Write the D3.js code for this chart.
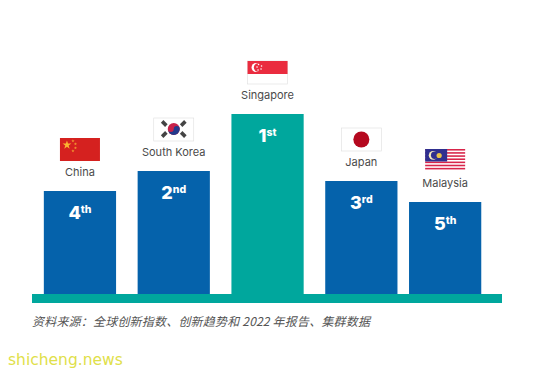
<!DOCTYPE html>
<html><head><meta charset="utf-8">
<script src="https://cdn.jsdelivr.net/npm/d3@7/dist/d3.min.js"></script>
<style>html,body{margin:0;padding:0;background:#fff}svg{display:block}</style>
</head><body><svg id="c" width="538" height="373"></svg>
<script>
const countries = ["China","South Korea","Singapore","Japan","Malaysia"];
const heights = [103,123,180,113,92];
const rankNumbers = ["4","2","1","3","5"];
const rankSuffixes = ["th","nd","st","rd","th"];
const caption = "资料来源:全球创新指数、创新趋势和 2022 年报告、集群数据";
const watermark = "shicheng.news";

const svg = d3.select("#c");
const baseY = 294, topY = 114;
const x = d3.scaleBand().domain(countries).range([33.8,501.3]).paddingInner(21.5/93.5).paddingOuter(0.107);
const xPos = d => x(d) + (d === "Malaysia" ? -10 : 0);
const y = d3.scaleLinear().domain([0,180]).range([baseY,topY]);
const rows = countries.map((c,i)=>({c,v:heights[i],n:rankNumbers[i],s:rankSuffixes[i]}));
const w = x.bandwidth();
const color = c => c==="Singapore" ? "#00a79d" : "#0562ab";

svg.append("rect").attr("x",32).attr("y",baseY).attr("width",470).attr("height",9).attr("fill","#00a79d");

const g = svg.selectAll("g.b").data(rows).join("g").attr("class","b");
g.append("rect").attr("x",d=>xPos(d.c)).attr("y",d=>y(d.v)).attr("width",w).attr("height",d=>baseY-y(d.v)).attr("fill",d=>color(d.c));

const rank = g.append("text").attr("x",d=>xPos(d.c)+w/2).attr("y",d=>y(d.v)+28)
  .attr("text-anchor","middle").attr("fill","#fff").attr("font-family","Inter, Roboto, sans-serif").attr("font-weight",800).attr("font-size",18);
rank.append("tspan").text(d=>d.n);
rank.append("tspan").text(d=>d.s).attr("font-size",10.5).attr("dy",-6);

g.append("text").attr("x",d=>xPos(d.c)+w/2).attr("y",d=>y(d.v)-15.5)
  .attr("text-anchor","middle").attr("fill","#4a4a4a").attr("font-family","Inter, sans-serif").attr("font-size",11).text(d=>d.c);

const flagW=40, flagH=23;
const border="#dedede";
const flag = g.append("g").attr("transform",d=>`translate(${xPos(d.c)+w/2-flagW/2},${y(d.v)-53})`);
flag.each(function(d){
  const f=d3.select(this);
  if(d.c==="China"){
    f.append("rect").attr("width",flagW).attr("height",flagH).attr("fill","#d5211f");
    f.append("path").attr("d",d3.symbol(d3.symbolStar,24)()).attr("transform","translate(7,7)").attr("fill","#fbb531");
    [[13,3],[15.5,6],[15.5,10],[13,13]].forEach(p=>f.append("path").attr("d",d3.symbol(d3.symbolStar,3)()).attr("transform",`translate(${p})`).attr("fill","#f5a531"));
  } else if(d.c==="South Korea"){
    f.append("rect").attr("width",flagW).attr("height",flagH).attr("fill","#fff").attr("stroke",border).attr("stroke-width",.6);
    f.append("circle").attr("cx",20).attr("cy",11).attr("r",6).attr("fill","#c8214a");
    f.append("path").attr("d","M14 11A6 6 0 0 0 26 11A3 3 0 0 0 20 11A3 3 0 0 1 14 11Z").attr("fill","#233a8c");
    [[10.5,5.5,45],[29.5,5.5,-45],[10.5,16.5,-45],[29.5,16.5,45]].forEach(p=>f.append("rect").attr("x",-3).attr("y",-1.8).attr("width",6).attr("height",3.6)
      .attr("transform",`translate(${p[0]},${p[1]}) rotate(${p[2]})`).attr("fill","#444"));
  } else if(d.c==="Singapore"){
    f.append("rect").attr("width",flagW).attr("height",flagH).attr("fill","#fff").attr("stroke",border).attr("stroke-width",.6);
    f.append("rect").attr("width",flagW).attr("height",13).attr("fill","#ea2c3f");
    f.append("circle").attr("cx",8.5).attr("cy",6.5).attr("r",4.5).attr("fill","#fff");
    f.append("circle").attr("cx",10.5).attr("cy",6.5).attr("r",4.2).attr("fill","#ea2c3f");
    [[10,3.5],[13,5],[12.5,8],[9.5,9],[8.5,6]].forEach(p=>f.append("circle").attr("cx",p[0]+1).attr("cy",p[1]).attr("r",.8).attr("fill","#fff"));
  } else if(d.c==="Japan"){
    f.append("rect").attr("width",flagW).attr("height",flagH).attr("fill","#fff").attr("stroke",border).attr("stroke-width",.6);
    f.append("circle").attr("cx",20).attr("cy",11.5).attr("r",8).attr("fill","#b5081f");
  } else {
    f.append("rect").attr("width",flagW).attr("height",flagH-1).attr("fill","#fff");
    d3.range(7).forEach(i=>f.append("rect").attr("y",i*22/7).attr("width",flagW).attr("height",11/7).attr("fill","#d8254a"));
    f.append("rect").attr("width",22).attr("height",12.5).attr("fill","#2f2f8f");
    f.append("circle").attr("cx",8).attr("cy",6.3).attr("r",4.4).attr("fill","#f4e9c0");
    f.append("circle").attr("cx",9.5).attr("cy",6.3).attr("r",3.7).attr("fill","#2f2f8f");
    f.append("circle").attr("cx",14).attr("cy",6.5).attr("r",2.6).attr("fill","#e8c24a");
  }
});

svg.append("text").attr("x",32).attr("y",326).attr("fill","#555").attr("font-style","italic")
  .attr("font-family","'Noto Sans CJK SC', sans-serif").attr("font-size",12).attr("textLength",338).text(caption.replace(":","\uFF1A"));

svg.append("text").attr("x",8).attr("y",365).attr("fill","#dfe04a")
  .attr("font-family","'DejaVu Sans', sans-serif").attr("font-size",15.5).text(watermark);
</script></body></html>
